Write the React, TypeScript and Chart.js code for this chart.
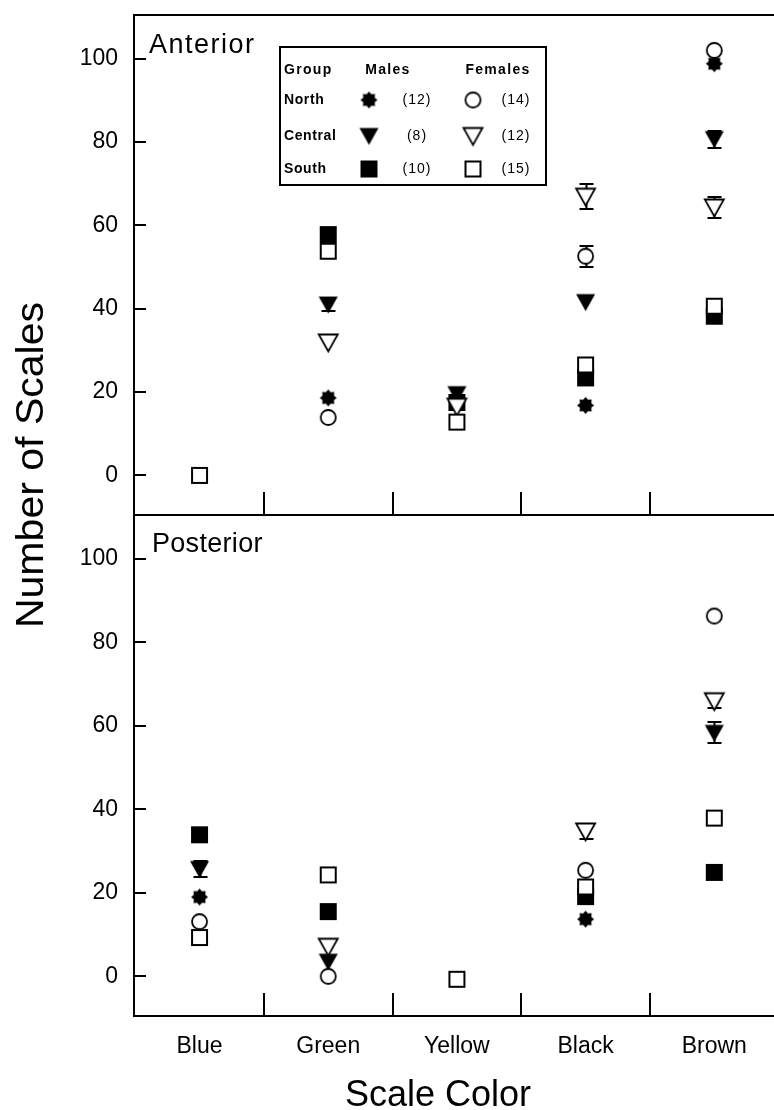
import React, { useEffect, useRef } from 'react';
import { Chart, registerables } from 'chart.js';

Chart.register(...registerables);

const FONT = "'Liberation Sans', Arial, sans-serif";

// ---------- data ----------
const CATEGORIES = ['Blue', 'Green', 'Yellow', 'Black', 'Brown'];
const Y_TICKS = [0, 20, 40, 60, 80, 100];
const X_BOUNDARIES = [0.5, 1.5, 2.5, 3.5];
const GROUPS = ['North', 'Central', 'South'];
const MALE_N = ['(12)', '(8)', '(10)'];
const FEMALE_N = ['(14)', '(12)', '(15)'];

// Anterior
const ANT_NORTH_M = [null, 18.6, null, 16.8, 98.8];
const ANT_CENTRAL_M = [null, 41, 19.5, 41.6, 80.7];
const ANT_SOUTH_M = [null, 57.8, 17.5, 23.4, 38.2];
const ANT_NORTH_F = [null, 13.9, null, 52.6, 102];
const ANT_CENTRAL_F = [null, 31.9, 16.5, 66.9, 64.3];
const ANT_SOUTH_F = [0, 53.8, 12.8, 26.5, 40.6];
const ANT_CENTRAL_M_ERR = [null, 1.5, null, null, 2];
const ANT_NORTH_F_ERR = [null, null, null, 2.5, null];
const ANT_CENTRAL_F_ERR = [null, null, null, 3, 2.6];

// Posterior
const POST_NORTH_M = [19, null, null, 13.7, null];
const POST_CENTRAL_M = [25.7, 3.5, null, null, 58.3];
const POST_SOUTH_M = [33.9, 15.5, null, 19.1, 24.9];
const POST_NORTH_F = [13.1, 0, null, 25.4, 86.3];
const POST_CENTRAL_F = [null, 7.1, null, 34.7, 65.9];
const POST_SOUTH_F = [9.3, 24.3, -0.7, 21.4, 37.9];
const POST_CENTRAL_M_ERR = [2, null, null, null, 2.5];
const POST_CENTRAL_F_ERR = [null, null, null, 1.8, 1.6];

const X_MIN = -0.517;
const X_MAX = 4.464;
const Y_MIN = -9.5;
const Y_MAX = 110.5;

type Kind = 'starF' | 'circleO' | 'triF' | 'triO' | 'sqF' | 'sqO';

function makeMarker(kind: Kind): HTMLCanvasElement {
  const s = 25;
  const c = s / 2;
  const cv = document.createElement('canvas');
  cv.width = s;
  cv.height = s;
  const ctx = cv.getContext('2d')!;
  ctx.lineWidth = 1.8;
  ctx.strokeStyle = '#000';
  ctx.fillStyle = '#000';
  if (kind === 'starF') {
    ctx.beginPath();
    for (let i = 0; i < 16; i++) {
      const r = i % 2 === 0 ? 8.5 : 6.2;
      const a = (i * Math.PI) / 8 - Math.PI / 2;
      const px = c + r * Math.cos(a);
      const py = c + r * Math.sin(a);
      if (i === 0) ctx.moveTo(px, py);
      else ctx.lineTo(px, py);
    }
    ctx.closePath();
    ctx.fill();
  } else if (kind === 'circleO') {
    ctx.beginPath();
    ctx.arc(c, c, 7.5, 0, Math.PI * 2);
    ctx.fillStyle = '#fff';
    ctx.fill();
    ctx.stroke();
  } else if (kind === 'triF' || kind === 'triO') {
    ctx.beginPath();
    ctx.moveTo(c - 9.5, c - 8);
    ctx.lineTo(c + 9.5, c - 8);
    ctx.lineTo(c, c + 9);
    ctx.closePath();
    if (kind === 'triF') ctx.fill();
    else {
      ctx.fillStyle = '#fff';
      ctx.fill();
      ctx.stroke();
    }
  } else {
    if (kind === 'sqF') {
      ctx.fillRect(c - 8.5, c - 8.5, 17, 17);
    } else {
      ctx.fillStyle = '#fff';
      ctx.fillRect(c - 8.5, c - 8.5, 17, 17);
      ctx.lineWidth = 2;
      ctx.strokeRect(c - 7.5, c - 7.5, 15, 15);
    }
  }
  return cv;
}

interface Series {
  values: (number | null)[];
  err?: (number | null)[];
  kind: Kind;
}

function makePanel(
  series: Series[],
  markers: Record<Kind, HTMLCanvasElement>,
  opts: {
    title: string;
    titleX: number;
    titleY: number;
    spacing: string;
    top: boolean;
  }
) {
  const datasets = series.map((s) => ({
    data: s.values
      .map((v, i) => (v == null ? null : { x: i, y: v }))
      .filter((p) => p !== null),
    pointStyle: markers[s.kind],
    pointRadius: 10,
    showLine: false,
    clip: false as any,
  }));

  const plugin = {
    id: 'panel-' + opts.title,
    beforeDatasetsDraw(chart: any) {
      const { ctx, scales } = chart;
      const x = scales.x;
      const y = scales.y;
      ctx.save();
      ctx.strokeStyle = '#000';
      ctx.lineWidth = 2;
      series.forEach((s) => {
        if (!s.err) return;
        s.values.forEach((v, i) => {
          const e = s.err![i];
          if (v == null || e == null) return;
          const px = Math.round(x.getPixelForValue(i)) + 0.5;
          const y1 = Math.round(y.getPixelForValue(v + e));
          const y2 = Math.round(y.getPixelForValue(v - e));
          ctx.beginPath();
          ctx.moveTo(px, y1);
          ctx.lineTo(px, y2);
          ctx.moveTo(px - 7, y1);
          ctx.lineTo(px + 7, y1);
          ctx.moveTo(px - 7, y2);
          ctx.lineTo(px + 7, y2);
          ctx.stroke();
        });
      });
      ctx.restore();
    },
    afterDatasetsDraw(chart: any) {
      const { ctx, chartArea: a, scales } = chart;
      const x = scales.x;
      const y = scales.y;
      ctx.save();
      ctx.strokeStyle = '#000';
      ctx.lineWidth = 2;
      ctx.beginPath();
      // left axis
      ctx.moveTo(a.left + 1, a.top);
      ctx.lineTo(a.left + 1, a.bottom);
      // bottom axis
      ctx.moveTo(a.left, a.bottom);
      ctx.lineTo(a.right, a.bottom);
      if (opts.top) {
        ctx.moveTo(a.left, a.top);
        ctx.lineTo(a.right, a.top);
      }
      // inward y ticks
      Y_TICKS.forEach((t) => {
        const py = Math.round(y.getPixelForValue(t));
        ctx.moveTo(a.left, py);
        ctx.lineTo(a.left + 13, py);
      });
      // x ticks at category boundaries
      X_BOUNDARIES.forEach((b) => {
        const px = Math.round(x.getPixelForValue(b));
        ctx.moveTo(px, a.bottom);
        ctx.lineTo(px, a.bottom - 23);
      });
      ctx.stroke();

      // panel title
      ctx.fillStyle = '#000';
      ctx.font = `27px ${FONT}`;
      (ctx as any).letterSpacing = opts.spacing;
      ctx.textBaseline = 'alphabetic';
      ctx.textAlign = 'left';
      ctx.fillText(opts.title, opts.titleX, opts.titleY);
      (ctx as any).letterSpacing = '0px';

      if (opts.top) {
        // legend box
        ctx.lineWidth = 2;
        ctx.strokeRect(280, 47, 266, 138);
        ctx.font = `bold 14px ${FONT}`;
        (ctx as any).letterSpacing = '1.3px';
        ctx.textBaseline = 'middle';
        ctx.textAlign = 'left';
        ctx.fillText('Group', 284, 70);
        ctx.textAlign = 'center';
        ctx.fillText('Males', 388, 70);
        ctx.fillText('Females', 498, 70);
        const rowsY = [100, 136, 169];
        const maleK: Kind[] = ['starF', 'triF', 'sqF'];
        const femK: Kind[] = ['circleO', 'triO', 'sqO'];
        GROUPS.forEach((g, i) => {
          const ry = rowsY[i];
          ctx.textAlign = 'left';
          ctx.font = `bold 14px ${FONT}`;
          (ctx as any).letterSpacing = '0.6px';
          ctx.fillText(g, 284, ry);
          const m = markers[maleK[i]];
          ctx.drawImage(m, 369 - m.width / 2, ry - m.height / 2);
          const f = markers[femK[i]];
          ctx.drawImage(f, 473 - f.width / 2, ry - f.height / 2);
          ctx.textAlign = 'center';
          ctx.font = `14px ${FONT}`;
          (ctx as any).letterSpacing = '1px';
          ctx.fillText(MALE_N[i], 417, ry);
          ctx.fillText(FEMALE_N[i], 516, ry);
        });
        (ctx as any).letterSpacing = '0px';
      } else {
        ctx.font = `36px ${FONT}`;
        ctx.textAlign = 'center';
        ctx.textBaseline = 'alphabetic';
        ctx.fillText('Scale Color', 438, 591);
      }
      ctx.restore();
    },
  };

  return {
    type: 'scatter' as const,
    data: { datasets },
    options: {
      animation: false as const,
      responsive: false,
      maintainAspectRatio: false,
      events: [],
      layout: {
        autoPadding: false,
        padding: { top: opts.top ? 15 : 0, left: 0, right: 0, bottom: 0 },
      },
      plugins: { legend: { display: false }, tooltip: { enabled: false } },
      scales: {
        x: {
          type: 'linear' as const,
          min: X_MIN,
          max: X_MAX,
          grid: { display: false, drawTicks: false },
          border: { display: false },
          afterBuildTicks: (s: any) => {
            s.ticks = CATEGORIES.map((_, i) => ({ value: i }));
          },
          afterFit: (s: any) => {
            s.height = opts.top ? 2 : 94;
            s.paddingLeft = 0;
            s.paddingRight = 0;
            s.paddingTop = 0;
            s.paddingBottom = 0;
          },
          ticks: {
            display: !opts.top,
            autoSkip: false,
            maxRotation: 0,
            padding: 17,
            color: '#000',
            font: { family: FONT, size: 23 },
            callback: (v: any) => CATEGORIES[v] ?? '',
          },
        },
        y: {
          type: 'linear' as const,
          min: Y_MIN,
          max: Y_MAX,
          grid: { display: false, drawTicks: false },
          border: { display: false },
          afterBuildTicks: (s: any) => {
            s.ticks = Y_TICKS.map((t) => ({ value: t }));
          },
          afterFit: (s: any) => {
            s.width = 133;
            s.paddingLeft = 0;
            s.paddingRight = 0;
            s.paddingTop = 0;
            s.paddingBottom = 0;
          },
          ticks: {
            padding: 15,
            color: '#000',
            font: { family: FONT, size: 23 },
          },
        },
      },
    },
    plugins: [plugin],
  };
}

export default function App() {
  const topRef = useRef<HTMLCanvasElement>(null);
  const botRef = useRef<HTMLCanvasElement>(null);

  useEffect(() => {
    const markers = {
      starF: makeMarker('starF'),
      circleO: makeMarker('circleO'),
      triF: makeMarker('triF'),
      triO: makeMarker('triO'),
      sqF: makeMarker('sqF'),
      sqO: makeMarker('sqO'),
    } as Record<Kind, HTMLCanvasElement>;

    const topSeries: Series[] = [
      { values: ANT_SOUTH_F, kind: 'sqO' },
      { values: ANT_CENTRAL_F, err: ANT_CENTRAL_F_ERR, kind: 'triO' },
      { values: ANT_NORTH_F, err: ANT_NORTH_F_ERR, kind: 'circleO' },
      { values: ANT_SOUTH_M, kind: 'sqF' },
      { values: ANT_CENTRAL_M, err: ANT_CENTRAL_M_ERR, kind: 'triF' },
      { values: ANT_NORTH_M, kind: 'starF' },
    ];
    const botSeries: Series[] = [
      { values: POST_SOUTH_F, kind: 'sqO' },
      { values: POST_CENTRAL_F, err: POST_CENTRAL_F_ERR, kind: 'triO' },
      { values: POST_NORTH_F, kind: 'circleO' },
      { values: POST_SOUTH_M, kind: 'sqF' },
      { values: POST_CENTRAL_M, err: POST_CENTRAL_M_ERR, kind: 'triF' },
      { values: POST_NORTH_M, kind: 'starF' },
    ];

    const c1 = new Chart(
      topRef.current!,
      makePanel(topSeries, markers, {
        title: 'Anterior',
        titleX: 149,
        titleY: 53,
        spacing: '1.5px',
        top: true,
      }) as any
    );
    const c2 = new Chart(
      botRef.current!,
      makePanel(botSeries, markers, {
        title: 'Posterior',
        titleX: 152,
        titleY: 37,
        spacing: '0.3px',
        top: false,
      }) as any
    );
    return () => {
      c1.destroy();
      c2.destroy();
    };
  }, []);

  return (
    <div
      style={{
        position: 'absolute',
        left: 0,
        top: 0,
        width: 774,
        height: 1110,
        background: '#fff',
        overflow: 'hidden',
      }}
    >
      <canvas
        ref={topRef}
        width={774}
        height={517}
        style={{ position: 'absolute', left: 0, top: 0, width: 774, height: 517, display: 'block' }}
      />
      <canvas
        ref={botRef}
        width={774}
        height={595}
        style={{ position: 'absolute', left: 0, top: 515, width: 774, height: 595, display: 'block' }}
      />
      <div
        style={{
          position: 'absolute',
          left: 30 - 250,
          top: 465 - 25,
          width: 500,
          height: 50,
          lineHeight: '50px',
          textAlign: 'center',
          fontFamily: FONT,
          fontSize: 38,
          color: '#000',
          transform: 'rotate(-90deg) scaleX(1.08)',
          whiteSpace: 'nowrap',
        }}
      >
        Number of Scales
      </div>
    </div>
  );
}
